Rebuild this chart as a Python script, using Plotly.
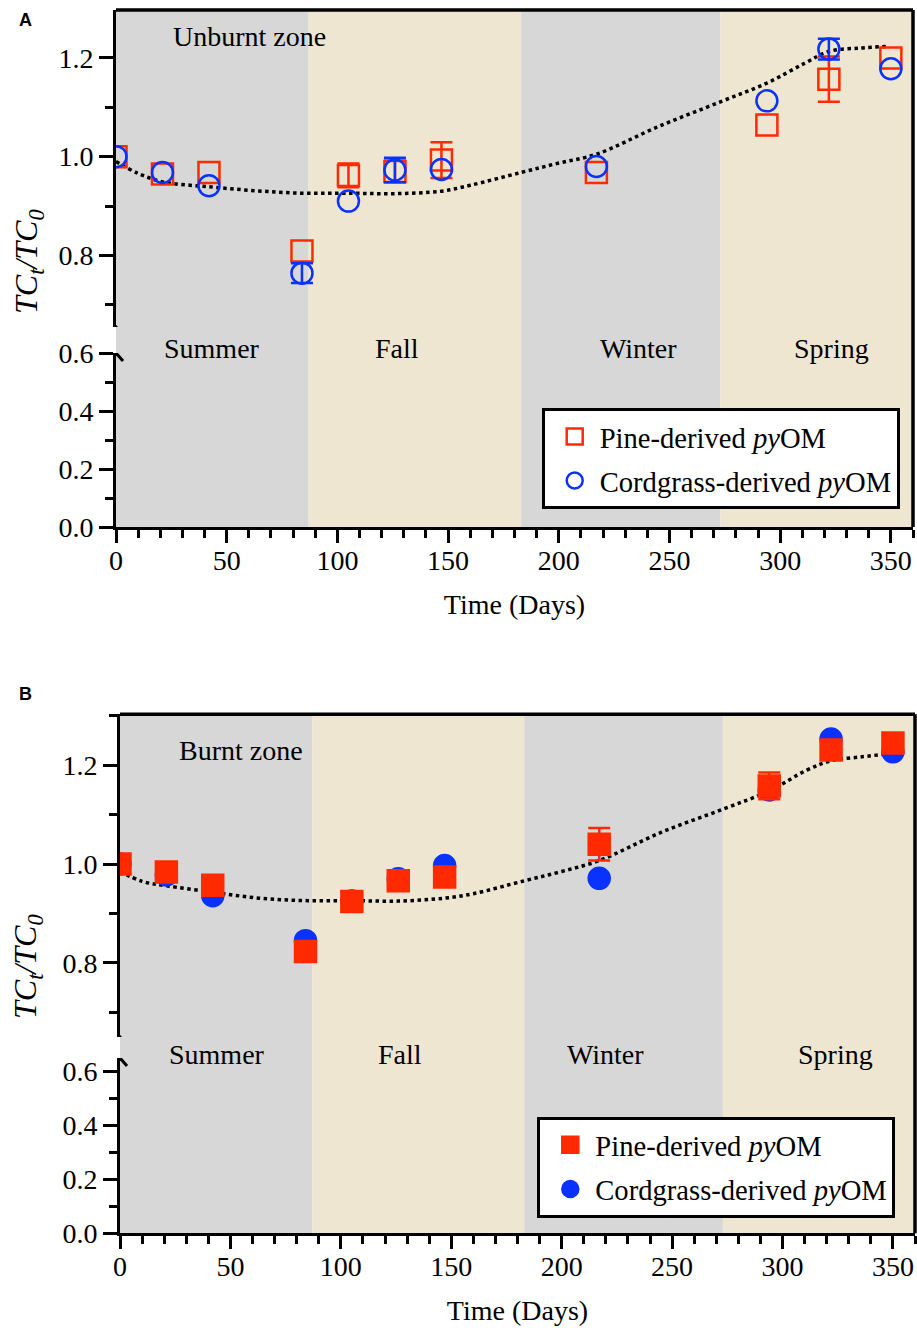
import numpy as np
import plotly.graph_objects as go

W, H = 917, 1328
SERIF = "Liberation Serif, Times New Roman, serif"
RED = "#ff2a00"
BLUE = "#0a32ff"
GRAY = "#d7d7d7"
BEIGE = "#efe6d2"

# ---------------- data ----------------
days = [0, 21, 42, 84, 105, 126, 147, 217, 294, 322, 350]

unburnt_pine = [1.000, 0.965, 0.968, 0.809, 0.962, 0.970, 0.993, 0.968, 1.064, 1.157, 1.200]
unburnt_pine_err = [None, None, None, None, 0.024, 0.022, 0.036, None, None, 0.046, None]
unburnt_cord = [1.000, 0.968, 0.941, 0.764, 0.910, 0.973, 0.974, 0.980, 1.113, 1.218, 1.178]
unburnt_cord_err = [None, None, None, 0.020, None, 0.025, None, None, None, 0.021, None]

burnt_pine = [1.000, 0.984, 0.957, 0.823, 0.924, 0.966, 0.974, 1.040, 1.158, 1.231, 1.245]
burnt_pine_err = [None, None, None, None, None, None, None, 0.033, 0.027, None, None]
burnt_cord = [1.000, 0.978, 0.936, 0.845, 0.925, 0.970, 0.997, 0.971, 1.150, 1.253, 1.227]

trend_days = [0, 10, 21, 42, 63, 84, 105, 126, 147, 160, 183, 200, 217, 245, 273, 294, 311, 322, 336, 348]
unburnt_trend = [0.990, 0.966, 0.949, 0.939, 0.931, 0.926, 0.926, 0.925, 0.930, 0.942, 0.968, 0.987,
                 1.005, 1.061, 1.111, 1.149, 1.189, 1.213, 1.220, 1.223]
burnt_trend = [0.985, 0.965, 0.956, 0.943, 0.931, 0.926, 0.926, 0.925, 0.931, 0.940, 0.966, 0.985,
               1.007, 1.064, 1.111, 1.148, 1.190, 1.209, 1.217, 1.223]

seasons = ["Summer", "Fall", "Winter", "Spring"]
season_start = [0, 87, 183, 273]
season_end = [87, 183, 273, 360]
season_color = [GRAY, BEIGE, GRAY, BEIGE]
season_label_day_A = [43.5, 127, 236, 323]
season_label_day_B = [44, 127, 220, 324]

x_ticks = [0, 50, 100, 150, 200, 250, 300, 350]


def err_array(vals):
    # missing error values -> NaN so that no bar/cap is drawn
    return np.array([np.nan if v is None else v for v in vals], dtype=float)


# ---------------- layout geometry (paper fractions) ----------------
def py(px):
    return 1 - px / H

A = dict(x=[116 / W, 913 / W], ylow=[py(527), py(353)], yup=[py(327), py(10)],
         rlow=[0, 0.6], rup=[0.655, 1.297])
B = dict(x=[120 / W, 915 / W], ylow=[py(1233.3), py(1058)], yup=[py(1037), py(714.3)],
         rlow=[0, 0.65], rup=[0.65, 1.303])

fig = go.Figure()


def add_panel(xa, ya_up, legend, pine, pine_err, cord, cord_err, trend, filled):
    trend_tr = go.Scatter(x=trend_days, y=trend, mode="lines",
                          line=dict(color="black", width=3.5, dash="3.5px,3.5px", shape="spline"),
                          xaxis=xa, yaxis=ya_up, showlegend=False, hoverinfo="skip")
    pine_tr = go.Scatter(
        x=days, y=pine, mode="markers", name="Pine-derived <i>py</i>OM",
        marker=dict(symbol="square" if filled else "square-open", size=21, color=RED,
                    line=dict(color=RED, width=2.5)),
        error_y=dict(type="data", array=err_array(pine_err), visible=True, color=RED, thickness=2.5, width=11),
        xaxis=xa, yaxis=ya_up, legend=legend, legendrank=1, legendgroup=legend + "p")
    cord_kwargs = {}
    if cord_err is not None:
        cord_kwargs["error_y"] = dict(type="data", array=err_array(cord_err), visible=True, color=BLUE,
                                      thickness=2.5, width=11)
    cord_tr = go.Scatter(
        x=days, y=cord, mode="markers", name="Cordgrass-derived <i>py</i>OM",
        marker=dict(symbol="circle" if filled else "circle-open", size=21, color=BLUE,
                    line=dict(color=BLUE, width=2.5)),
        xaxis=xa, yaxis=ya_up, legend=legend, legendrank=2, legendgroup=legend + "c", **cord_kwargs)
    fig.add_trace(trend_tr)
    if filled:
        fig.add_trace(cord_tr)
        fig.add_trace(pine_tr)
    else:
        fig.add_trace(pine_tr)
        fig.add_trace(cord_tr)


add_panel("x", "y2", "legend", unburnt_pine, unburnt_pine_err, unburnt_cord, unburnt_cord_err, unburnt_trend, False)
add_panel("x2", "y4", "legend2", burnt_pine, burnt_pine_err, burnt_cord, None, burnt_trend, True)

tickfont = dict(family=SERIF, size=28, color="black")


def xaxis_cfg(dom, anchor):
    return dict(domain=dom, anchor=anchor, range=[0, 360], showgrid=False, zeroline=False,
                showline=True, linewidth=3, linecolor="black", automargin=False,
                ticks="outside", ticklen=13, tickwidth=3, tickcolor="black",
                tickvals=x_ticks, tickfont=tickfont, ticklabelstandoff=-7,
                minor=dict(dtick=10, tick0=0, ticks="outside", ticklen=8, tickwidth=3, tickcolor="black"),
                title=dict(text="Time (Days)", font=dict(family=SERIF, size=28, color="black"), standoff=20),
                fixedrange=True)


def yaxis_cfg(dom, rng, anchor):
    return dict(domain=dom, anchor=anchor, range=rng, showgrid=False, zeroline=False,
                showline=True, linewidth=3, linecolor="black", automargin=False,
                ticks="outside", ticklen=14, tickwidth=3, tickcolor="black",
                tick0=0, dtick=0.2, tickformat=".1f", tickfont=tickfont,
                minor=dict(dtick=0.1, tick0=0, ticks="outside", ticklen=8, tickwidth=3, tickcolor="black"),
                fixedrange=True)


shapes = []
annotations = []


def panel_decor(P, xref, ylow_ref, yup_ref, zone_text, zone_x, zone_y, label_days, letter, letter_y, title_y):
    y_bot, y_top = P["ylow"][0], P["yup"][1]
    for s0, s1, c in zip(season_start, season_end, season_color):
        shapes.append(dict(type="rect", xref=xref, yref="paper", x0=s0, x1=s1, y0=y_bot, y1=y_top,
                           fillcolor=c, line=dict(width=0), layer="below"))
    # frame: top and right
    shapes.append(dict(type="line", xref=xref + " domain", yref="paper", x0=0, x1=1, y0=y_top, y1=y_top,
                       line=dict(color="black", width=3.5), layer="above"))
    shapes.append(dict(type="line", xref=xref + " domain", yref="paper", x0=1, x1=1, y0=y_bot, y1=y_top,
                       line=dict(color="black", width=3.5), layer="above"))
    # axis break slashes
    for yref, yanc in ((yup_ref, P["rup"][0]), (ylow_ref, P["rlow"][1])):
        shapes.append(dict(type="line", xref=xref, xsizemode="pixel", xanchor=0, x0=-7, x1=7,
                           yref=yref, ysizemode="pixel", yanchor=yanc, y0=8, y1=-8,
                           line=dict(color="black", width=3), layer="above"))
    annotations.append(dict(text=zone_text, xref=xref, yref=yup_ref, x=zone_x, y=zone_y, showarrow=False,
                            xanchor="center", yanchor="middle",
                            font=dict(family=SERIF, size=28, color="black")))
    for name, d in zip(seasons, label_days):
        annotations.append(dict(text=name, xref=xref, yref=ylow_ref, x=d, y=P["rlow"][1], yshift=4,
                                xanchor="center", yanchor="middle",
                                showarrow=False, font=dict(family=SERIF, size=28, color="black")))
    annotations.append(dict(text="<b>" + letter + "</b>", xref="paper", yref="paper", x=25.5 / W, y=py(letter_y),
                            xanchor="center", yanchor="middle", showarrow=False,
                            font=dict(family="Liberation Sans, Arial, sans-serif", size=18, color="black")))
    annotations.append(dict(text="<i>TC<sub>t</sub>/TC<sub>0</sub></i>", xref="paper", yref="paper",
                            x=28 / W, y=py(title_y), textangle=-90, showarrow=False,
                            xanchor="center", yanchor="middle",
                            font=dict(family=SERIF, size=32, color="black")))


panel_decor(A, "x", "y", "y2", "Unburnt zone", 60.5, 1.2426, season_label_day_A, "A", 19.5, 262)
panel_decor(B, "x2", "y3", "y4", "Burnt zone", 54.7, 1.229, season_label_day_B, "B", 693.5, 967)

legend_common = dict(bgcolor="white", bordercolor="black", borderwidth=3,
                     font=dict(family=SERIF, size=28.6, color="black"),
                     xanchor="left", yanchor="top", traceorder="grouped", tracegroupgap=4,
                     itemsizing="trace", itemwidth=40, indentation=5)

fig.update_layout(
    template="none",
    width=W, height=H, autosize=False,
    margin=dict(l=0, r=0, t=0, b=0, pad=0),
    paper_bgcolor="white", plot_bgcolor="rgba(0,0,0,0)",
    font=dict(family=SERIF, size=28, color="black"),
    xaxis=xaxis_cfg(A["x"], "y"),
    yaxis=yaxis_cfg(A["ylow"], A["rlow"], "x"),
    yaxis2=yaxis_cfg(A["yup"], A["rup"], "x"),
    xaxis2=xaxis_cfg(B["x"], "y3"),
    yaxis3=yaxis_cfg(B["ylow"], B["rlow"], "x2"),
    yaxis4=yaxis_cfg(B["yup"], B["rup"], "x2"),
    legend=dict(x=541.7 / W, y=py(408.3), **legend_common),
    legend2=dict(x=537.3 / W, y=py(1116.7), **legend_common),
    shapes=shapes, annotations=annotations,
    showlegend=True,
)

fig.write_html("out.html", config={"displayModeBar": False},
               post_script="document.body.style.margin='0';document.body.style.overflow='hidden';")
